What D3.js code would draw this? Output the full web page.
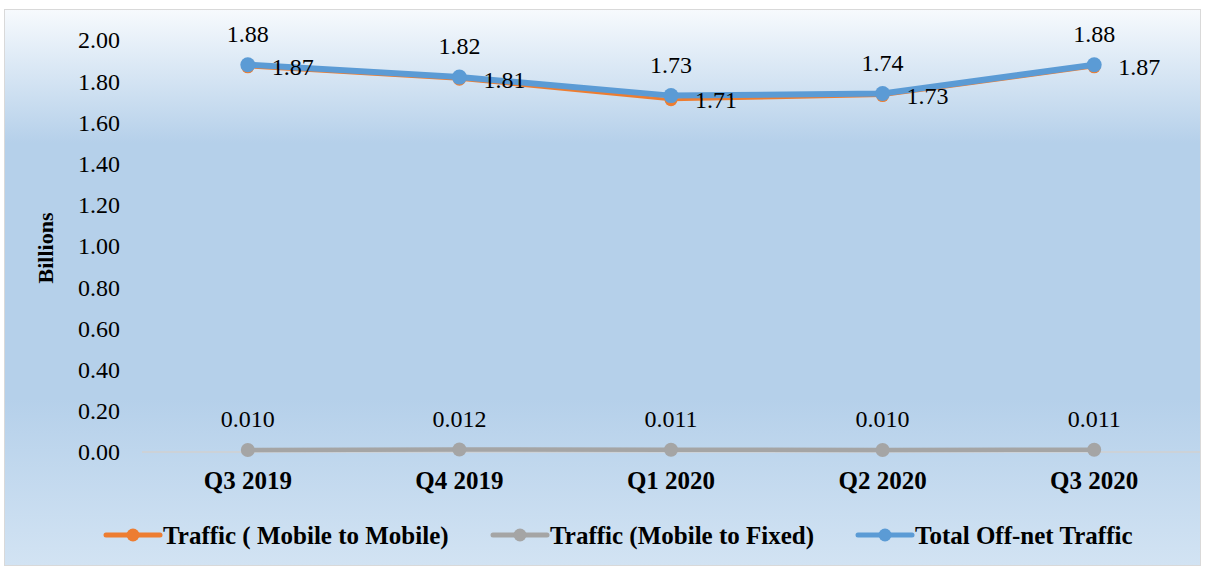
<!DOCTYPE html>
<html>
<head>
<meta charset="utf-8">
<script src="https://cdn.jsdelivr.net/npm/d3@7"></script>
<style>
  html, body { margin: 0; padding: 0; background: #fff; }
  svg text { font-family: "Liberation Serif", "DejaVu Serif", serif; fill: #000; }
</style>
</head>
<body>
<div id="chart"></div>
<script>
// 数据
const quarters = ['Q3 2019', 'Q4 2019', 'Q1 2020', 'Q2 2020', 'Q3 2020'];
const mobileToMobile = [1.87, 1.81, 1.71, 1.73, 1.87];
const mobileToFixed = [0.010, 0.012, 0.011, 0.010, 0.011];
const totalOffnet = [1.88, 1.82, 1.73, 1.74, 1.88];
const yTicks = [0, 0.2, 0.4, 0.6, 0.8, 1.0, 1.2, 1.4, 1.6, 1.8, 2.0];
const seriesNames = ['Traffic ( Mobile to Mobile)', 'Traffic (Mobile to Fixed)', 'Total Off-net Traffic'];

const width = 1205, height = 568;
const margin = {top: 40, right: 5, bottom: 116, left: 142};

const svg = d3.select('#chart').append('svg')
    .attr('width', width)
    .attr('height', height);

// 背景渐变
const defs = svg.append('defs');
const grad = defs.append('linearGradient')
    .attr('id', 'bg')
    .attr('x1', 0).attr('y1', 0).attr('x2', 0).attr('y2', 1);
grad.append('stop').attr('offset', '0%').attr('stop-color', '#f7fafd');
grad.append('stop').attr('offset', '24%').attr('stop-color', '#b5d0ea');
grad.append('stop').attr('offset', '70%').attr('stop-color', '#b5d0ea');
grad.append('stop').attr('offset', '100%').attr('stop-color', '#d2e3f3');

svg.append('rect')
    .attr('x', 4.5).attr('y', 9.5)
    .attr('width', 1196).attr('height', 556)
    .attr('fill', 'url(#bg)')
    .attr('stroke', '#d9d9d9')
    .attr('stroke-width', 1);

const x = d3.scaleBand()
    .domain(quarters)
    .range([margin.left, width - margin.right]);

const y = d3.scaleLinear()
    .domain([0, 2])
    .range([452, 40]);

const cx = d => x(d) + x.bandwidth() / 2;

// y 轴标签
svg.append('g')
    .selectAll('text')
    .data(yTicks)
    .enter()
    .append('text')
    .attr('x', 120)
    .attr('y', d => y(d))
    .attr('dy', '0.35em')
    .attr('text-anchor', 'end')
    .style('font-size', '24px')
    .text(d => d.toFixed(2));

// x 轴线
svg.append('line')
    .attr('x1', margin.left).attr('x2', width - margin.right)
    .attr('y1', y(0)).attr('y2', y(0))
    .attr('stroke', '#d0d0d0')
    .attr('stroke-width', 1.5);

svg.append('g')
    .selectAll('text')
    .data(quarters)
    .enter()
    .append('text')
    .attr('x', d => cx(d))
    .attr('y', 489)
    .attr('text-anchor', 'middle')
    .style('font-size', '25px')
    .style('font-weight', 'bold')
    .text(d => d);

// y 轴标题
svg.append('text')
    .attr('transform', 'translate(45,248) rotate(-90)')
    .attr('dy', '0.35em')
    .attr('text-anchor', 'middle')
    .style('font-size', '22px')
    .style('font-weight', 'bold')
    .text('Billions');

const series = [
    {name: seriesNames[0], values: mobileToMobile, color: '#ed7d31', width: 3, r: 6.5, fmt: d => d.toFixed(2), pos: 'right'},
    {name: seriesNames[1], values: mobileToFixed, color: '#a5a5a5', width: 4.5, r: 7, fmt: d => d.toFixed(3), pos: 'above'},
    {name: seriesNames[2], values: totalOffnet, color: '#5b9bd5', width: 6, r: 7.5, fmt: d => d.toFixed(2), pos: 'above'}
];

const line = d3.line()
    .x((d, i) => cx(quarters[i]))
    .y(d => y(d));

// 绘制线和点
series.forEach(s => {
    const g = svg.append('g');
    g.append('path')
        .attr('d', line(s.values))
        .attr('fill', 'none')
        .attr('stroke', s.color)
        .attr('stroke-width', s.width)
        .attr('stroke-linejoin', 'round');
    g.selectAll('circle')
        .data(s.values)
        .enter()
        .append('circle')
        .attr('cx', (d, i) => cx(quarters[i]))
        .attr('cy', d => y(d))
        .attr('r', s.r)
        .attr('fill', s.color);
});

// 数据标签
series.forEach(s => {
    svg.append('g')
        .selectAll('text')
        .data(s.values)
        .enter()
        .append('text')
        .attr('x', (d, i) => cx(quarters[i]) + (s.pos === 'right' ? 24 : 0))
        .attr('y', d => y(d) + (s.pos === 'right' ? 0 : -31))
        .attr('dy', '0.35em')
        .attr('text-anchor', s.pos === 'right' ? 'start' : 'middle')
        .style('font-size', '24px')
        .text(d => s.fmt(d));
});

// 图例
const legendX = [106, 493, 858];
const legend = svg.append('g');
series.forEach((s, i) => {
    const lg = legend.append('g').attr('transform', `translate(${legendX[i]},535)`);
    lg.append('line')
        .attr('x1', 0).attr('x2', 54)
        .attr('y1', 0).attr('y2', 0)
        .attr('stroke', s.color)
        .attr('stroke-width', 5)
        .attr('stroke-linecap', 'round');
    lg.append('circle')
        .attr('cx', 27).attr('cy', 0)
        .attr('r', 6.5)
        .attr('fill', s.color);
    lg.append('text')
        .attr('x', 57)
        .attr('y', 0)
        .attr('dy', '0.35em')
        .style('font-size', '25px')
        .style('font-weight', 'bold')
        .text(s.name);
});
</script>
</body>
</html>
